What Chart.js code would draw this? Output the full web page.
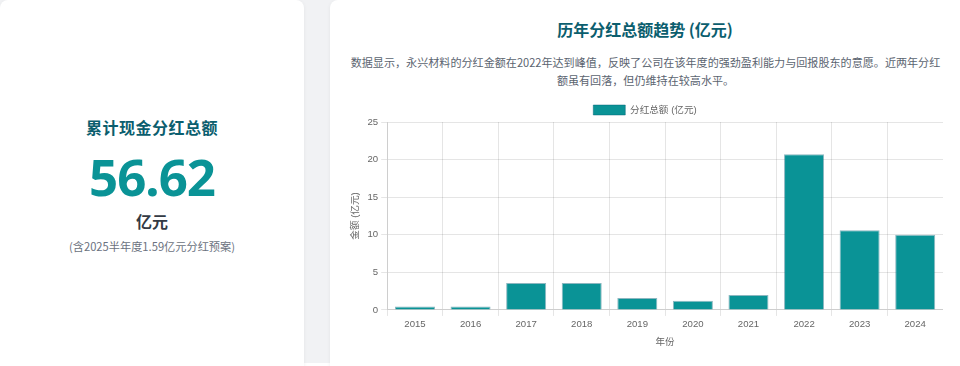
<!DOCTYPE html>
<html>
<head>
<meta charset="utf-8">
<script src="https://cdn.jsdelivr.net/npm/chart.js@4"></script>
<style>
  html, body { margin: 0; padding: 0; background: #ffffff; }
  body { width: 960px; height: 366px; overflow: hidden; position: relative; font-family: "Noto Sans CJK SC", "Noto Sans", sans-serif; }
  .bg { position: absolute; left: 0; top: 0; width: 960px; height: 363px; background: #f1f2f4; }
  .card { position: absolute; background: #fff; border-radius: 8px; box-shadow: 0 1px 4px rgba(0,0,0,0.06); }
  #left { left: 0; top: 0; width: 304px; height: 380px; }
  #right { left: 330px; top: 0; width: 640px; height: 380px; }
  .t1 { position: absolute; left: 0; width: 304px; text-align: center; }
  #lt { top: 115px; font-size: 16px; font-weight: 700; color: #0b5e6e; letter-spacing: 0.5px; line-height: 24px; }
  #big { top: 143px; font-size: 51px; font-weight: 700; color: #0a9396; letter-spacing: -1px; line-height: 66px; font-family: "Noto Sans", "Noto Sans CJK SC", sans-serif; }
  #unit { top: 209px; font-size: 16px; font-weight: 700; color: #333a44; line-height: 24px; }
  #note { top: 237px; font-size: 11.2px; color: #6b7280; line-height: 18px; }
  #rt { position: absolute; left: 0; top: 17px; width: 630px; text-align: center; font-size: 16px; font-weight: 700; color: #0b5e6e; line-height: 24px; }
  #desc { position: absolute; left: 18px; top: 53px; width: 595px; text-align: center; font-size: 11.08px; color: #5b6470; line-height: 18px; }
  #wrap { position: absolute; left: 17px; top: 101px; width: 596px; height: 247px; }
</style>
</head>
<body>
<div class="bg"></div>
<div class="card" id="left">
  <div class="t1" id="lt">累计现金分红总额</div>
  <div class="t1" id="big">56.62</div>
  <div class="t1" id="unit">亿元</div>
  <div class="t1" id="note">(含2025半年度1.59亿元分红预案)</div>
</div>
<div class="card" id="right">
  <div id="rt">历年分红总额趋势 (亿元)</div>
  <div id="desc">数据显示，永兴材料的分红金额在2022年达到峰值，反映了公司在该年度的强劲盈利能力与回报股东的意愿。近两年分红额虽有回落，但仍维持在较高水平。</div>
  <div id="wrap"><canvas id="c"></canvas></div>
</div>
<script>
const years = ['2015','2016','2017','2018','2019','2020','2021','2022','2023','2024'];
const dividends = [0.45, 0.45, 3.57, 3.57, 1.6, 1.24, 2.0, 20.72, 10.6, 10.0];
const seriesLabel = '分红总额 (亿元)';
const yTitle = '金额 (亿元)';
const xTitle = '年份';

Chart.defaults.font.family = '"Helvetica Neue", Helvetica, Arial, "Liberation Sans", "Noto Sans CJK SC", sans-serif';
Chart.defaults.font.size = 9.6;
Chart.defaults.color = '#666';

const legendGap = {
  id: 'legendGap',
  beforeInit(chart) {
    const origFit = chart.legend.fit;
    chart.legend.fit = function () {
      origFit.call(this);
      this.height -= 3;
    };
  }
};

new Chart(document.getElementById('c'), {
  type: 'bar',
  data: {
    labels: years,
    datasets: [{
      label: seriesLabel,
      data: dividends,
      backgroundColor: '#0a9396',
      borderColor: 'rgba(0,95,115,0.45)',
      borderWidth: 1
    }]
  },
  plugins: [legendGap],
  options: {
    responsive: true,
    maintainAspectRatio: false,
    animation: false,
    plugins: {
      legend: {
        display: true,
        labels: { boxWidth: 32, boxHeight: 10, padding: 4, font: { size: 9.6 } }
      },
      tooltip: { enabled: false }
    },
    scales: {
      x: {
        title: { display: true, text: xTitle, font: { size: 9.6 }, padding: { top: 3, bottom: 0 } },
        ticks: { font: { size: 9.6 }, padding: 3 },
        grid: { tickLength: 6 }
      },
      y: {
        beginAtZero: true,
        min: 0,
        max: 25,
        ticks: { stepSize: 5, font: { size: 9.6 }, padding: 3 },
        title: { display: true, text: yTitle, font: { size: 9.6 }, padding: { top: 3, bottom: 3 } },
        grid: { tickLength: 6 }
      }
    }
  }
});
</script>
</body>
</html>
